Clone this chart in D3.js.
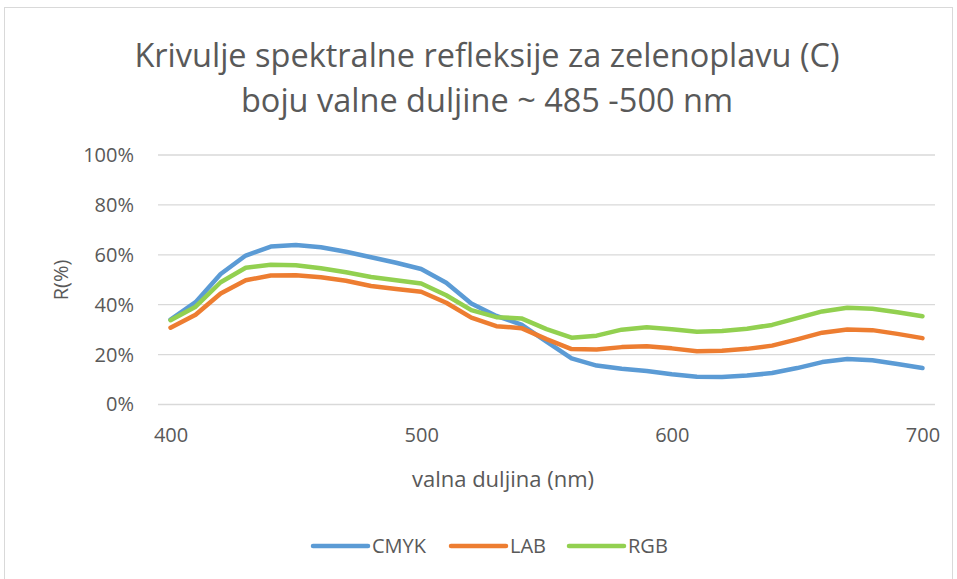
<!DOCTYPE html>
<html>
<head>
<meta charset="utf-8">
<script src="https://cdn.jsdelivr.net/npm/d3@7"></script>
<style>
    body { margin: 0; background: #fff; }
    text { font-family: "Open Sans", "Noto Sans", sans-serif; fill: #595959; }
</style>
</head>
<body>
<script>
// Wavelengths (nm), one category per 10 nm
var wavelengths = [400, 410, 420, 430, 440, 450, 460, 470, 480, 490, 500,
    510, 520, 530, 540, 550, 560, 570, 580, 590, 600,
    610, 620, 630, 640, 650, 660, 670, 680, 690, 700];

// Reflectance values in percent
var cmyk = [34, 41, 52.3, 59.7, 63.3, 63.9, 63, 61.2, 59, 56.8, 54.3,
    48.8, 40.5, 35.5, 32, 25.2, 18.5, 15.6, 14.3, 13.4, 12.1,
    11.1, 11, 11.6, 12.6, 14.6, 17, 18.2, 17.7, 16.2, 14.6];
var lab = [30.8, 36, 44.5, 49.8, 51.7, 51.8, 51, 49.6, 47.5, 46.3, 45.2,
    40.8, 34.8, 31.4, 30.6, 26.2, 22.2, 22, 23, 23.3, 22.5,
    21.3, 21.5, 22.3, 23.6, 26.1, 28.8, 30.1, 29.8, 28.3, 26.6];
var rgb = [33.8, 39.2, 49, 54.8, 56, 55.8, 54.6, 53, 51.1, 49.8, 48.5,
    43.8, 37.8, 35, 34.5, 30.2, 26.8, 27.6, 30, 31, 30.2,
    29.2, 29.5, 30.4, 31.9, 34.6, 37.3, 38.8, 38.4, 37, 35.4];

var seriesNames = ["CMYK", "LAB", "RGB"];
var seriesColors = ["#5B9BD5", "#ED7D31", "#92D050"];
var yTicks = [0, 20, 40, 60, 80, 100];
var xTickLabels = [400, 500, 600, 700];

var titleLines = ["Krivulje spektralne refleksije za zelenoplavu (C)",
    "boju valne duljine ~ 485 -500 nm"];

var w = 957, h = 579;
var plotLeft = 158, plotRight = 935, plotTop = 155, plotBottom = 404.5;

var svg = d3.select("body")
    .append("svg")
    .attr("width", w)
    .attr("height", h);

// Chart border
svg.append("rect")
    .attr("x", 4.5)
    .attr("y", 7.5)
    .attr("width", 948)
    .attr("height", 590)
    .style("fill", "#fff")
    .style("stroke", "#d9d9d9")
    .style("stroke-width", 1);

// Category axis: points sit in the middle of each category
var x = d3.scalePoint()
    .domain(wavelengths)
    .range([plotLeft, plotRight])
    .padding(0.5);

var y = d3.scaleLinear()
    .domain([0, 100])
    .range([plotBottom, plotTop]);

// Gridlines
svg.append("g")
    .attr("class", "grid")
    .selectAll("line")
    .data(yTicks)
    .enter()
    .append("line")
    .attr("x1", plotLeft)
    .attr("x2", plotRight)
    .attr("y1", function(d){ return y(d); })
    .attr("y2", function(d){ return y(d); })
    .style("stroke", "#d9d9d9")
    .style("stroke-width", 1.3);

// Y axis labels
var yAxis = svg.append("g")
    .attr("class", "yaxis")
    .attr("transform", "translate(" + plotLeft + ",0)")
    .call(d3.axisLeft(y)
        .tickValues(yTicks)
        .tickSize(0)
        .tickPadding(24)
        .tickFormat(function(d){ return d + "%"; }));
yAxis.select(".domain").remove();
yAxis.selectAll("text")
    .style("font-size", "20px")
    .style("font-family", "'Open Sans', sans-serif")
    .style("fill", "#595959");

// X axis labels
var xAxis = svg.append("g")
    .attr("class", "xaxis")
    .attr("transform", "translate(0," + plotBottom + ")")
    .call(d3.axisBottom(x)
        .tickValues(xTickLabels)
        .tickSize(0)
        .tickPadding(23));
xAxis.select(".domain").remove();
xAxis.selectAll("text")
    .style("font-size", "20px")
    .style("font-family", "'Open Sans', sans-serif")
    .style("fill", "#595959");

// Series lines
var line = d3.line()
    .x(function(d, i){ return x(wavelengths[i]); })
    .y(function(d){ return y(d); });

svg.selectAll(".series")
    .data([cmyk, lab, rgb])
    .enter()
    .append("path")
    .attr("class", "series")
    .attr("d", line)
    .style("fill", "none")
    .style("stroke", function(d, i){ return seriesColors[i]; })
    .style("stroke-width", 4.5)
    .style("stroke-linejoin", "round")
    .style("stroke-linecap", "round");

// Title
svg.append("text")
    .attr("class", "title")
    .attr("text-anchor", "middle")
    .attr("x", 487)
    .attr("y", 67)
    .style("font-size", "32.5px")
    .text(titleLines[0]);
svg.append("text")
    .attr("class", "title")
    .attr("text-anchor", "middle")
    .attr("x", 487)
    .attr("y", 112)
    .style("font-size", "32.5px")
    .text(titleLines[1]);

// Axis titles
svg.append("text")
    .attr("text-anchor", "middle")
    .attr("x", 503)
    .attr("y", 487)
    .style("font-size", "22px")
    .text("valna duljina (nm)");

svg.append("text")
    .attr("text-anchor", "middle")
    .attr("transform", "translate(68,280) rotate(-90)")
    .style("font-size", "20px")
    .text("R(%)");

// Legend
var legendX = [313, 451, 569];
var legend = svg.selectAll(".legend")
    .data(seriesNames)
    .enter()
    .append("g")
    .attr("class", "legend")
    .attr("transform", function(d, i){ return "translate(" + legendX[i] + ",546)"; });

legend.append("line")
    .attr("x1", 0)
    .attr("x2", 55)
    .style("stroke", function(d, i){ return seriesColors[i]; })
    .style("stroke-width", 4.5)
    .style("stroke-linecap", "round");

legend.append("text")
    .attr("x", 59)
    .attr("y", 7)
    .style("font-size", "20px")
    .text(function(d){ return d; });
</script>
</body>
</html>
